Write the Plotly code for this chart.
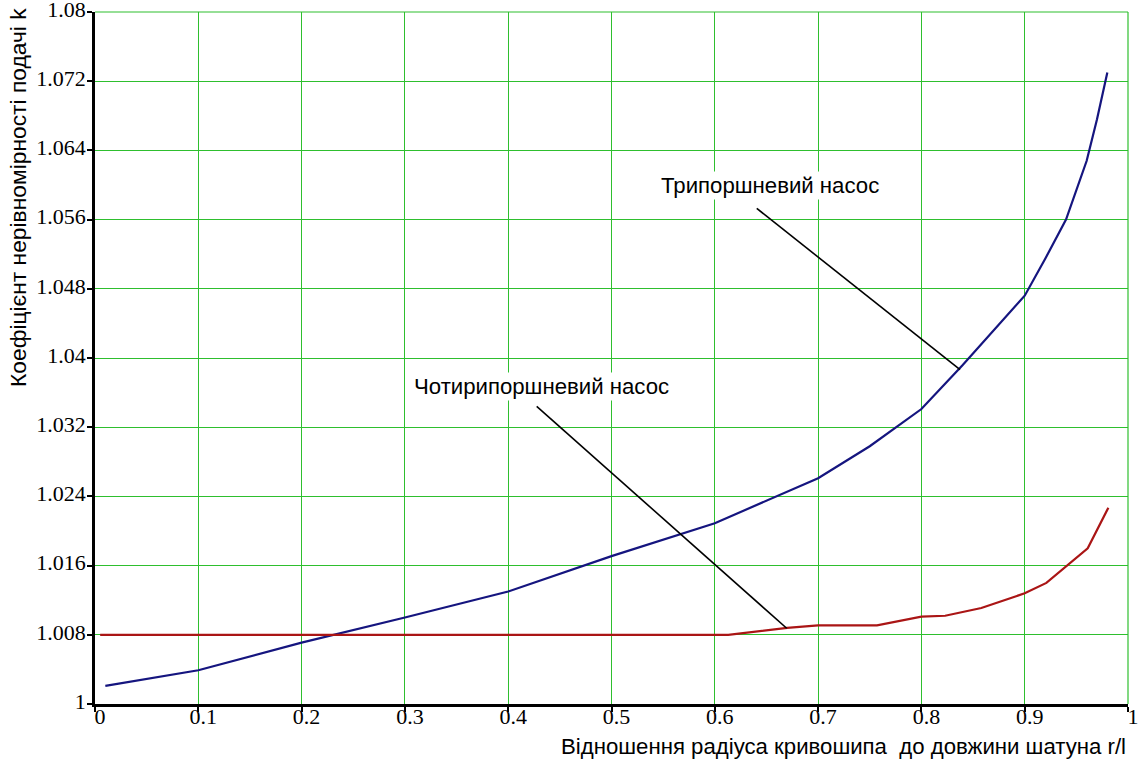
import plotly.graph_objects as go

# ---- data ----
x_tri = [0.01, 0.1, 0.2, 0.3, 0.4, 0.5, 0.6, 0.7, 0.75, 0.8, 0.84, 0.9, 0.92, 0.94, 0.96, 0.97, 0.98]
y_tri = [1.0021, 1.0039, 1.0071, 1.0100, 1.0130, 1.0171, 1.0209, 1.0261, 1.0298, 1.0341, 1.0392,
         1.0472, 1.0515, 1.0560, 1.0628, 1.0676, 1.0730]

x_four = [0.005, 0.6, 0.613, 0.67, 0.7, 0.757, 0.8, 0.823, 0.858, 0.9, 0.921, 0.961, 0.981]
y_four = [1.008, 1.008, 1.008, 1.0088, 1.0091, 1.0091, 1.0101, 1.0102, 1.0111, 1.0128, 1.014, 1.018, 1.0227]

x_ticks = [0, 0.1, 0.2, 0.3, 0.4, 0.5, 0.6, 0.7, 0.8, 0.9, 1.0]
x_ticktext = ["0", "0.1", "0.2", "0.3", "0.4", "0.5", "0.6", "0.7", "0.8", "0.9", "1"]
y_ticks = [1.0, 1.008, 1.016, 1.024, 1.032, 1.04, 1.048, 1.056, 1.064, 1.072, 1.08]
y_ticktext = ["1", "1.008", "1.016", "1.024", "1.032", "1.04", "1.048", "1.056", "1.064", "1.072", "1.08"]

label_tri = "Трипоршневий насос"
label_four = "Чотирипоршневий насос"
x_title = "Відношення радіуса кривошипа  до довжини шатуна r/l"
y_title = "Коефіцієнт нерівномірності подачі k"

# label anchor points (data coords) and leader lines
tri_text_pos = (0.6534, 1.05995)
four_text_pos = (0.4327, 1.0367)
tri_leader = [(0.6406, 1.0573), (0.8374, 1.03865)]
four_leader = [(0.4276, 1.0344), (0.6696, 1.00876)]

GRID = "#2ebf2e"
BLUE = "#15157f"
RED = "#aa1515"

fig = go.Figure()
fig.add_trace(go.Scatter(x=x_tri, y=y_tri, mode="lines",
                         line=dict(color=BLUE, width=2.2), showlegend=False))
fig.add_trace(go.Scatter(x=x_four, y=y_four, mode="lines",
                         line=dict(color=RED, width=2.2), showlegend=False))

# green frame lines on top and right edges (grid at range ends)
fig.add_shape(type="line", xref="paper", yref="paper", x0=0, y0=1, x1=1, y1=1,
              line=dict(color=GRID, width=1.2), layer="below")
fig.add_shape(type="line", xref="paper", yref="paper", x0=1, y0=0, x1=1, y1=1,
              line=dict(color=GRID, width=1.2), layer="below")

for (p0, p1) in (tri_leader, four_leader):
    fig.add_shape(type="line", xref="x", yref="y", x0=p0[0], y0=p0[1], x1=p1[0], y1=p1[1],
                  line=dict(color="black", width=1.6), layer="above")

ann_font = dict(family="Liberation Sans, Arial, sans-serif", size=22.2, color="black")
fig.add_annotation(x=tri_text_pos[0], y=tri_text_pos[1], xref="x", yref="y", text=label_tri,
                   showarrow=False, font=ann_font, bgcolor="white", xanchor="center", yanchor="middle")
fig.add_annotation(x=four_text_pos[0], y=four_text_pos[1], xref="x", yref="y", text=label_four,
                   showarrow=False, font=ann_font, bgcolor="white", xanchor="center", yanchor="middle")

# axis titles
fig.add_annotation(x=1.0, y=-0.062, xref="paper", yref="paper", text=x_title, showarrow=False,
                   font=ann_font, xanchor="right", yanchor="middle")
fig.add_annotation(x=-0.0745, y=1.008, xref="paper", yref="paper", text=y_title, showarrow=False,
                   font=dict(family="Liberation Sans, Arial, sans-serif", size=22.8, color="black"),
                   textangle=-90, xanchor="center", yanchor="top")

tick_font = dict(family="Liberation Serif, Times New Roman, serif", size=22, color="black")
fig.update_xaxes(range=[0, 1], tickvals=x_ticks, ticktext=x_ticktext, tickfont=tick_font,
                 showgrid=True, gridcolor=GRID, gridwidth=1, zeroline=False,
                 showline=True, linecolor="black", linewidth=2.5, automargin=False,
                 ticks="outside", ticklen=5, tickwidth=2, tickcolor="black",
                 ticklabelstandoff=-14, ticklabelshift=5, ticklabeloverflow="allow")
fig.update_yaxes(range=[1, 1.08], tickvals=y_ticks, ticktext=y_ticktext, tickfont=tick_font,
                 showgrid=True, gridcolor=GRID, gridwidth=1, zeroline=False,
                 showline=True, linecolor="black", linewidth=2.5, automargin=False,
                 ticks="outside", ticklen=5, tickwidth=2, tickcolor="black",
                 ticklabelstandoff=-3, ticklabelshift=-3, ticklabeloverflow="allow")

fig.update_layout(width=1141, height=765, margin=dict(l=95, r=13, t=12, b=61),
                  paper_bgcolor="white", plot_bgcolor="white", showlegend=False)

# remove the default 8px page margin so the figure sits at the window's corner
fig.write_html("out.html", config={"displayModeBar": False},
               post_script="document.body.style.margin='0';document.body.style.overflow='hidden';")
